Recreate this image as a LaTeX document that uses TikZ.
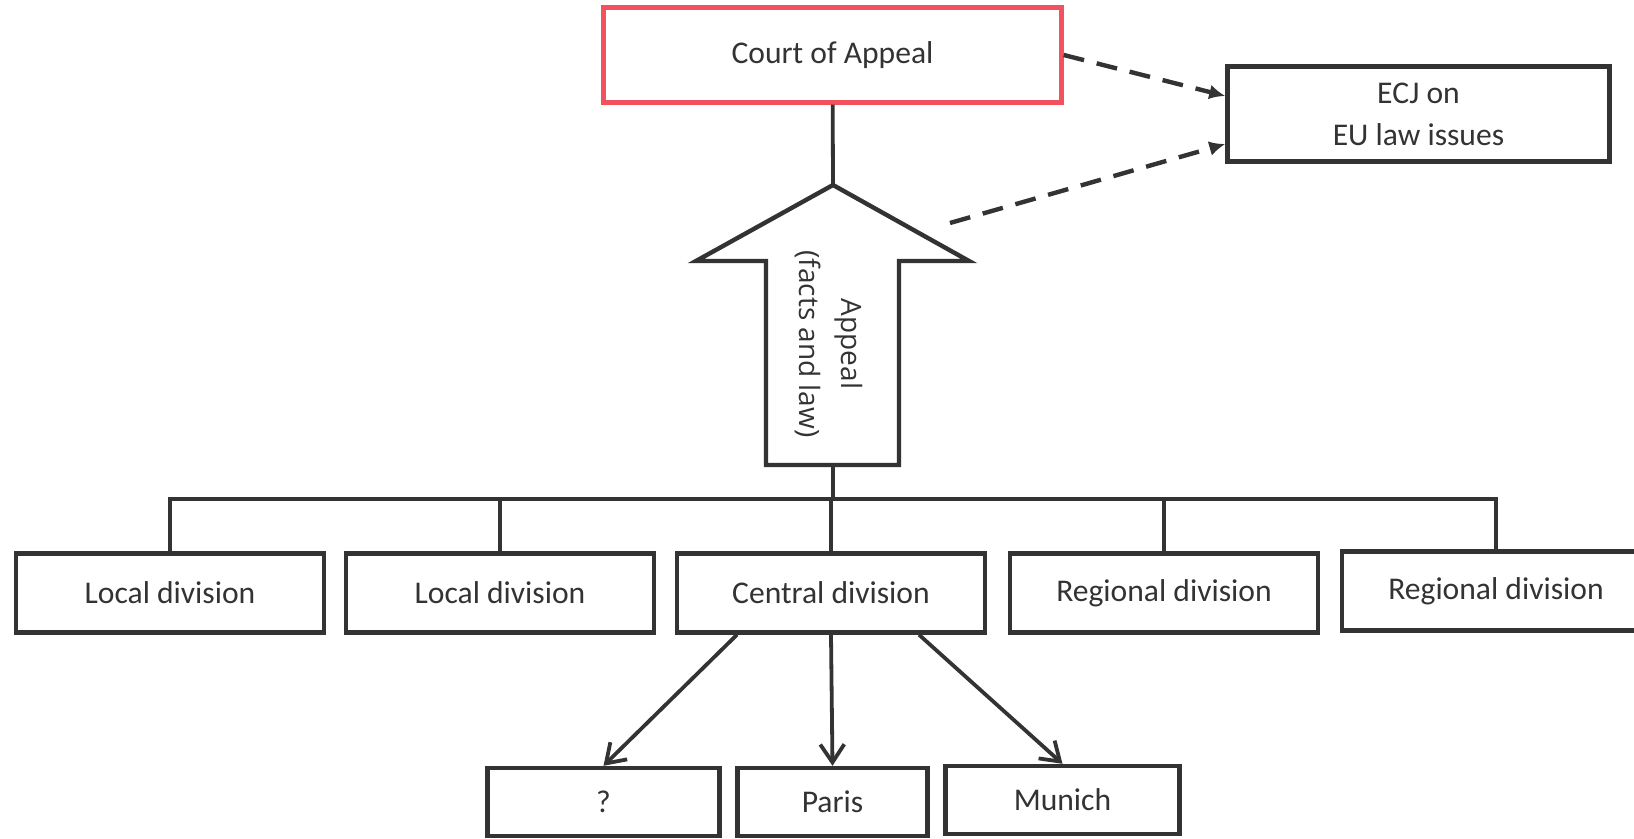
\documentclass[tikz,border=0pt]{standalone}
\usepackage{fontspec}
\setmainfont{Carlito}
\newfontfamily\appealfont{Open Sans}
\usetikzlibrary{arrows.meta, calc}
\definecolor{courtred}{RGB}{242,82,94}
\definecolor{darkline}{RGB}{51,51,51}

\begin{document}
\begin{tikzpicture}[
			x=0.5pt, y=-0.5pt,
			box/.style={rectangle, draw=darkline, line width=2.2pt, inner sep=0pt, text=darkline, align=center, font=\fontsize{15.8}{21}\selectfont, minimum width=#1},
			division/.style={box=154pt, minimum height=39.5pt},
			seat/.style={box=#1, minimum height=34pt},
			link/.style={draw=darkline, line width=1.9pt},
			dasharrow/.style={link, line width=2.2pt, dash pattern=on 10.5pt off 6.5pt, -{Latex[length=8pt, width=7.5pt]}},
			split/.style={link, -{Straight Barb[length=9pt, width=12pt]}},
			blockarrow/.style={draw=darkline, line width=2.2pt, fill=white, line join=miter}
			]
			\useasboundingbox (0,0) rectangle (1634,839);

			\node[box=229pt, minimum height=47.5pt, draw=courtred] (court) at (832.5,55) {Court of Appeal};
			\node[box=191pt, minimum height=47.5pt] (ecj) at (1418.5,114) {ECJ on\\EU law issues};

			% the appeal arrow
			\coordinate (tip) at (833,185);
			\coordinate (base) at (833,465);
			\coordinate (headside) at (950,223);
			\draw[blockarrow] (tip) -- (969,261) -- (899,261) -- (base -| 899,0) -- (base -| 766,0) -- (766,261) -- (696,261) -- cycle;
			\node[rotate=-90, align=center, text=darkline, font=\appealfont\fontsize{14}{21}\selectfont] (appeal) at (829,344) {Appeal\\(facts and law)};

			% divisions
			\node[division] (local1) at (170,593) {Local division};
			\node[division] (local2) at (500,593) {Local division};
			\node[division] (central) at (831,593) {Central division};
			\node[division] (regional1) at (1164,593) {Regional division};
			\node[division] (regional2) at (1496,591) {Regional division};

			% seats of the central division
			\node[seat=116pt] (unknown) at (603.5,802) {?};
			\node[seat=95pt] (paris) at (832.5,802) {Paris};
			\node[seat=117pt] (munich) at (1062.5,800) {Munich};

			\coordinate (bar) at (833,499);
			\draw[link] (court) -- (tip);
			\draw[link] (base) -- (bar);
			\draw[link] (local1.north) |- (regional2.north |- bar) -- (regional2.north);
			\foreach \d in {local2, central, regional1}
				\draw[link] (\d.north) -- (\d.north |- bar);

			\draw[dasharrow] (court.east) -- ($(ecj.west)+(0,-18)$);
			\draw[dasharrow] (headside) -- ($(ecj.west)+(0,30)$);

			\draw[split] ($(central.south)+(-94,0)$) -- (unknown.north);
			\draw[split] (central.south) -- (paris.north);
			\draw[split] ($(central.south)+(88,0)$) -- (munich.north);
		\end{tikzpicture}
\end{document}
